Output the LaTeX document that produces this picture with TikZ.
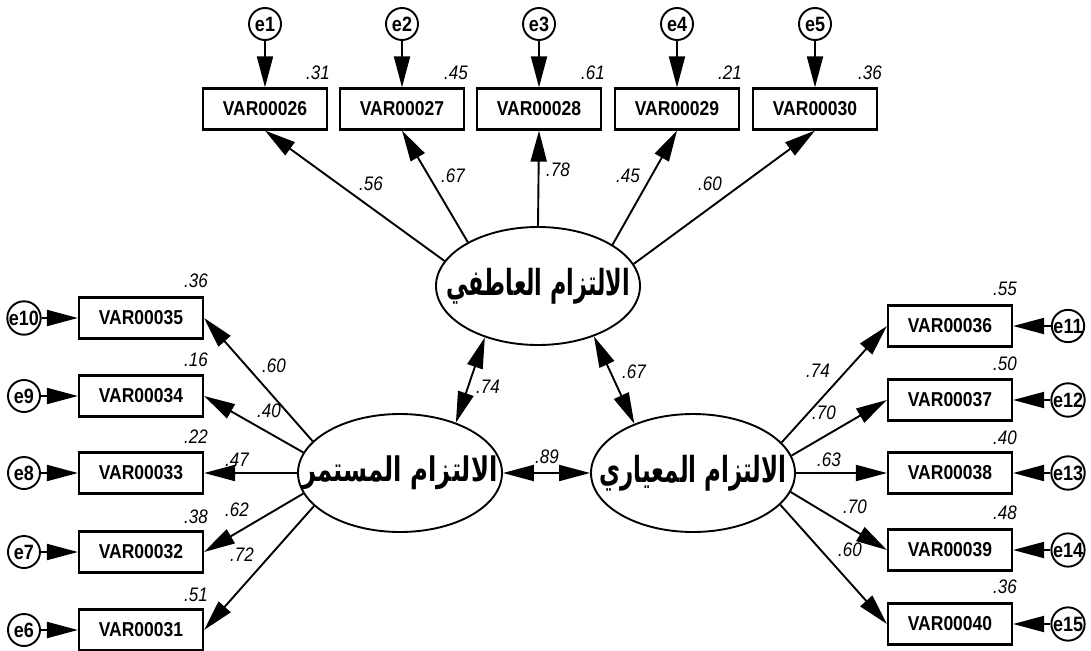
\documentclass[tikz,border=0pt]{standalone}
\usepackage{fontspec}
\usepackage{graphicx}
\setmainfont{Liberation Sans}
\newfontfamily\arabicfont[Script=Arabic]{DejaVu Sans}
\TeXXeTstate=1
\usetikzlibrary{arrows.meta,shapes.geometric}
\newcommand{\vsc}[1]{\scalebox{1}[1.15]{#1}}
\begin{document}
\begin{tikzpicture}[x=1pt,y=-1pt,
 obs/.style={draw,line width=2.2pt,minimum width=124pt,minimum height=41pt,inner sep=0pt,font=\bfseries\fontsize{17.5}{17.5}\selectfont},
 err/.style={draw,circle,line width=1.9pt,minimum size=32pt,inner sep=0pt,font=\bfseries\fontsize{18}{18}\selectfont},
 lat/.style={draw,ellipse,line width=1.9pt,minimum width=204pt,minimum height=118pt,inner sep=0pt},
 lattext/.style={inner sep=0pt,font=\arabicfont\bfseries},
 num/.style={font=\itshape\fontsize{17}{17}\selectfont,inner sep=0pt},
 load/.style={line width=1.9pt,-{Triangle[length=31pt,width=16pt]}},
 cov/.style={line width=1.9pt,{Triangle[length=31pt,width=16pt]}-{Triangle[length=31pt,width=16pt]}}
]
\useasboundingbox[fill=white] (0,0) rectangle (1091,650);

% latent variables
\node[lat] (F1) at (538,286) {};
\node[lat] (F2) at (400,473) {};
\node[lat] (F3) at (693,473) {};
\node[lattext] (F1t) at (F1.center) {\resizebox*{184pt}{36pt}{\beginR الالتزام العاطفي\endR}};
\node[lattext] (F2t) at (F2.center) {\resizebox*{195pt}{34pt}{\beginR الالتزام المستمر\endR}};
\node[lattext] (F3t) at (F3.center) {\resizebox*{187pt}{36pt}{\beginR الالتزام المعياري\endR}};

% top indicators
\node[obs] (v26) at (265,109) {\vsc{VAR00026}};
\node[obs] (v27) at (402,109) {\vsc{VAR00027}};
\node[obs] (v28) at (539,109) {\vsc{VAR00028}};
\node[obs] (v29) at (677,109) {\vsc{VAR00029}};
\node[obs] (v30) at (815,109) {\vsc{VAR00030}};
\node[err] (e1) at (265,24) {\vsc{e1}};
\node[err] (e2) at (402,24) {\vsc{e2}};
\node[err] (e3) at (539,24) {\vsc{e3}};
\node[err] (e4) at (677,24) {\vsc{e4}};
\node[err] (e5) at (815,24) {\vsc{e5}};

% left indicators
\node[obs] (v35) at (141,318) {\vsc{VAR00035}};
\node[obs] (v34) at (141,396) {\vsc{VAR00034}};
\node[obs] (v33) at (141,473) {\vsc{VAR00033}};
\node[obs] (v32) at (141,552) {\vsc{VAR00032}};
\node[obs] (v31) at (141,630) {\vsc{VAR00031}};
\node[err] (e10) at (24,318) {\vsc{e10}};
\node[err] (e9) at (24,396) {\vsc{e9}};
\node[err] (e8) at (24,473) {\vsc{e8}};
\node[err] (e7) at (24,552) {\vsc{e7}};
\node[err] (e6) at (24,630) {\vsc{e6}};

% right indicators
\node[obs] (v36) at (950,326) {\vsc{VAR00036}};
\node[obs] (v37) at (950,400) {\vsc{VAR00037}};
\node[obs] (v38) at (950,473) {\vsc{VAR00038}};
\node[obs] (v39) at (950,550) {\vsc{VAR00039}};
\node[obs] (v40) at (950,624) {\vsc{VAR00040}};
\node[err] (e11) at (1068,326) {\vsc{e11}};
\node[err] (e12) at (1068,400) {\vsc{e12}};
\node[err] (e13) at (1068,473) {\vsc{e13}};
\node[err] (e14) at (1068,550) {\vsc{e14}};
\node[err] (e15) at (1068,624) {\vsc{e15}};

% error arrows
\foreach \e/\v in {e1/v26,e2/v27,e3/v28,e4/v29,e5/v30,e10/v35,e9/v34,e8/v33,e7/v32,e6/v31,e11/v36,e12/v37,e13/v38,e14/v39,e15/v40}
  \draw[load] (\e) -- (\v);

% loadings
\draw[load] (F1.165.5) -- (v26.south);
\draw[load] (F1.148.8) -- (v27.south);
\draw[load] (F1.90) -- (v28.south);
\draw[load] (F1.29.8) -- (v29.south);
\draw[load] (F1.13.9) -- (v30.south);

\draw[load] (F2.160.4) -- (v35.east);
\draw[load] (F2.168.9) -- (v34.east);
\draw[load] (F2.180) -- (v33.east);
\draw[load] (F2.192.8) -- (v32.east);
\draw[load] (F2.201.9) -- (v31.east);

\draw[load] (F3.19) -- (v36.west);
\draw[load] (F3.10.5) -- (v37.west);
\draw[load] (F3.0) -- (v38.west);
\draw[load] (F3.-11.7) -- (v39.west);
\draw[load] (F3.-20.9) -- (v40.west);

% covariances
\draw[cov] (F1.224.5) -- (F2.42.3);
\draw[cov] (F1.318.1) -- (F3.140.2);
\draw[cov] (F2.east) -- (F3.west);

% R2 labels
\node[num] (r26) at (318,73) {\vsc{.31}};
\node[num] (r27) at (456,73) {\vsc{.45}};
\node[num] (r28) at (593,73) {\vsc{.61}};
\node[num] (r29) at (730,73) {\vsc{.21}};
\node[num] (r30) at (870,73) {\vsc{.36}};
\node[num] (r35) at (196,281) {\vsc{.36}};
\node[num] (r34) at (196,360) {\vsc{.16}};
\node[num] (r33) at (196,437) {\vsc{.22}};
\node[num] (r32) at (196,517) {\vsc{.38}};
\node[num] (r31) at (196,595) {\vsc{.51}};
\node[num] (r36) at (1005,289) {\vsc{.55}};
\node[num] (r37) at (1005,364) {\vsc{.50}};
\node[num] (r38) at (1005,438) {\vsc{.40}};
\node[num] (r39) at (1005,513) {\vsc{.48}};
\node[num] (r40) at (1005,587) {\vsc{.36}};

% loading labels
\node[num] (l26) at (371,184) {\vsc{.56}};
\node[num] (l27) at (453,176) {\vsc{.67}};
\node[num] (l28) at (558,170) {\vsc{.78}};
\node[num] (l29) at (628,176) {\vsc{.45}};
\node[num] (l30) at (710,184) {\vsc{.60}};
\node[num] (l35) at (274,366) {\vsc{.60}};
\node[num] (l34) at (269,411) {\vsc{.40}};
\node[num] (l33) at (237,460) {\vsc{.47}};
\node[num] (l32) at (237,510) {\vsc{.62}};
\node[num] (l31) at (242,555) {\vsc{.72}};
\node[num] (l36) at (818,371) {\vsc{.74}};
\node[num] (l37) at (824,413) {\vsc{.70}};
\node[num] (l38) at (829,460) {\vsc{.63}};
\node[num] (l39) at (855,507) {\vsc{.70}};
\node[num] (l40) at (850,550) {\vsc{.60}};

% covariance labels
\node[num] (c12) at (488,387) {\vsc{.74}};
\node[num] (c13) at (634,372) {\vsc{.67}};
\node[num] (c23) at (547,457) {\vsc{.89}};
\end{tikzpicture}
\end{document}
